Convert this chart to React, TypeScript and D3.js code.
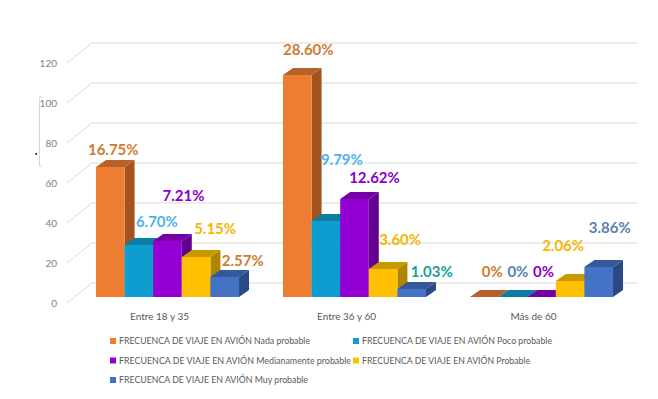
import React from 'react';
import * as d3 from 'd3';

// --- data ---
const categories = ['Entre 18 y 35', 'Entre 36 y 60', 'Más de 60'];
const seriesNames = [
  'FRECUENCA DE VIAJE EN AVIÓN Nada probable',
  'FRECUENCA DE VIAJE EN AVIÓN Poco probable',
  'FRECUENCA DE VIAJE EN AVIÓN Medianamente probable',
  'FRECUENCA DE VIAJE EN AVIÓN Probable',
  'FRECUENCA DE VIAJE EN AVIÓN Muy probable',
];
const nadaValues = [65, 111, 0];
const pocoValues = [26, 38, 0];
const medianValues = [28, 49, 0];
const probValues = [20, 14, 8];
const muyValues = [10, 4, 15];
const seriesValues = [nadaValues, pocoValues, medianValues, probValues, muyValues];

const nadaLabels = ['16.75%', '28.60%', '0%'];
const pocoLabels = ['6.70%', '9.79%', '0%'];
const medianLabels = ['7.21%', '12.62%', '0%'];
const probLabels = ['5.15%', '3.60%', '2.06%'];
const muyLabels = ['2.57%', '1.03%', '3.86%'];
const seriesLabels = [nadaLabels, pocoLabels, medianLabels, probLabels, muyLabels];

const yTicks = [0, 20, 40, 60, 80, 100, 120];

// --- styling ---
const frontColors = ['#ED7D31', '#0E9DCF', '#9400D3', '#FFC000', '#4472C4'];
const topColors = ['#B8612A', '#0B7EA6', '#7400A6', '#C99A00', '#34589C'];
const sideColors = ['#A3531F', '#086C8F', '#63008E', '#B08600', '#2B4A85'];
// label colours per [series][category]
const labelColors = [
  ['#CF7B33', '#CF7B33', '#CF7B33'],
  ['#4DB3EA', '#4DB3EA', '#5B80B3'],
  ['#8A00C4', '#8A00C4', '#8A00C4'],
  ['#F2B600', '#F2B600', '#F2B600'],
  ['#CF7B33', '#17A0A0', '#5B80B3'],
];
// manual label nudges (dx, dy) from each bar's front-top centre, per [series][category]
const labelNudges = [
  [[3, -17], [11, -25], [8, -25]],
  [[18, -23], [16, -61], [5, -25]],
  [[16, -45], [20, -21], [2, -25]],
  [[19, -28], [17, -29], [-7, -35]],
  [[18, -16], [20, -17], [11, -39]],
];
// legend entries are set in a condensed face in the original; fit them to its widths
const legendTextWidths = [191, 190, 232, 168, 189];

const W = 658;
const H = 399;
const depthX = 10;
const depthY = -7;

export default function App() {
  const x0 = d3.scaleBand<string>().domain(categories).range([74, 635]).paddingInner(0.235).paddingOuter(0.1175);
  const x1 = d3.scaleBand<number>().domain(d3.range(seriesNames.length)).range([0, x0.bandwidth()]);
  const y = d3.scaleLinear().domain([0, 120]).range([297, 57]);

  const bars: JSX.Element[] = [];
  const labels: JSX.Element[] = [];
  categories.forEach((cat, ci) => {
    seriesValues.forEach((vals, si) => {
      const bx = (x0(cat) ?? 0) + (x1(si) ?? 0);
      const bw = x1.bandwidth();
      const top = y(vals[ci]);
      const bottom = y(0);
      const topFace = `M${bx},${top}L${bx + bw},${top}L${bx + bw + depthX},${top + depthY}L${bx + depthX},${top + depthY}Z`;
      const side = `M${bx + bw},${top}L${bx + bw + depthX},${top + depthY}L${bx + bw + depthX},${bottom + depthY}L${bx + bw},${bottom}Z`;
      bars.push(
        <g key={`b${ci}-${si}`}>
          <path d={side} fill={sideColors[si]} />
          <path d={topFace} fill={topColors[si]} />
          <rect x={bx} y={top} width={bw} height={bottom - top} fill={frontColors[si]} />
        </g>
      );
      const [ndx, ndy] = labelNudges[si][ci];
      labels.push(
        <text
          key={`l${ci}-${si}`}
          x={bx + bw / 2 + ndx}
          y={top + ndy}
          dy="0.35em"
          textAnchor="middle"
          fontFamily="Lato, 'Open Sans', sans-serif"
          fontWeight={700}
          fontSize={15}
          fill={labelColors[si][ci]}
        >
          {seriesLabels[si][ci]}
        </text>
      );
    });
  });

  const legendRows = [
    [0, 1],
    [2, 3],
    [4],
  ];

  return (
    <div style={{ position: 'absolute', left: 0, top: 0 }}>
      <svg width={W} height={H} style={{ display: 'block', background: '#fff' }}>
        {/* gridlines with perspective floor offset */}
        {yTicks.map(t => (
          <g key={t}>
            <path
              d={`M67,${y(t) + 6}L92,${y(t) - 14}L637,${y(t) - 14}`}
              fill="none"
              stroke="#D9D9D9"
              strokeWidth={1}
            />
            <text
              x={57}
              y={y(t) + 6}
              dy="0.35em"
              textAnchor="end"
              fontFamily="Lato, 'Open Sans', sans-serif"
              fontSize={10}
              fill="#7F7F7F"
            >
              {t}
            </text>
          </g>
        ))}

        {/* stray selection bracket seen in the reference */}
        <path d="M42,97L39.5,97L39.5,166L42,166" fill="none" stroke="#BFE3E3" strokeWidth={1} />
        <rect x={35.5} y={153} width={1.5} height={2} fill="#222" />

        {bars}

        {categories.map(cat => (
          <text
            key={cat}
            x={(x0(cat) ?? 0) + x0.bandwidth() / 2 - 8}
            y={316}
            dy="0.35em"
            textAnchor="middle"
            fontFamily="Lato, 'Open Sans', sans-serif"
            fontSize={10}
            fill="#595959"
          >
            {cat}
          </text>
        ))}

        {labels}

        {/* legend */}
        {legendRows.map((row, ri) =>
          row.map((si, k) => {
            const lx = k === 0 ? 110 : 353;
            const ly = 341 + ri * 19.5;
            return (
              <g key={`lg${si}`}>
                <rect x={lx} y={ly - 3} width={6} height={6} fill={frontColors[si]} />
                <text
                  x={lx + 9}
                  y={ly}
                  dy="0.35em"
                  fontFamily="Lato, 'Open Sans', sans-serif"
                  fontSize={9.5}
                  fill="#595959"
                  textLength={legendTextWidths[si]}
                  lengthAdjust="spacingAndGlyphs"
                >
                  {seriesNames[si]}
                </text>
              </g>
            );
          })
        )}
      </svg>
    </div>
  );
}
